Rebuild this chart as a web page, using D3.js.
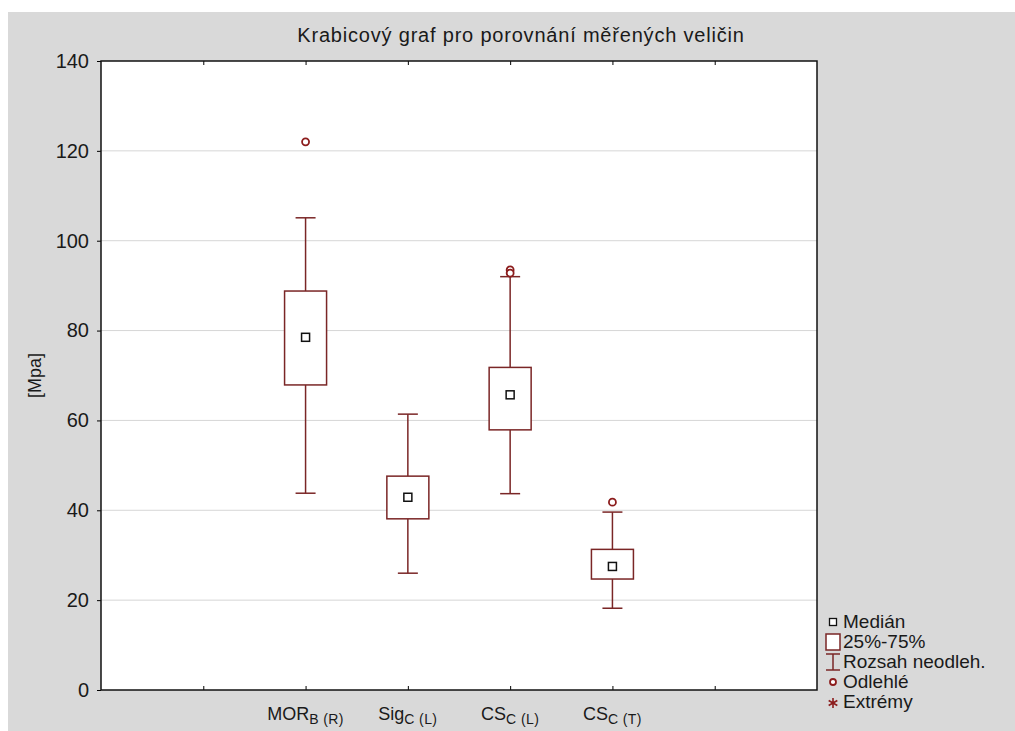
<!DOCTYPE html>
<html>
<head>
<meta charset="utf-8">
<script src="https://cdn.jsdelivr.net/npm/d3@7"></script>
<style>
  html, body { margin: 0; padding: 0; background: #ffffff; }
  svg { display: block; }
  text { font-family: "Liberation Sans", Arial, sans-serif; fill: #1a1a1a; }
</style>
</head>
<body>
<svg id="chart" width="1015" height="731"></svg>
<script>
// Measured quantities (MPa) per variable
const categories = ["MOR", "Sig", "CS", "CS"];
const subscripts = ["B (R)", "C (L)", "C (L)", "C (T)"];
const medians    = [78.5, 42.9, 65.7, 27.5];
const q1         = [67.9, 38.1, 57.9, 24.7];
const q3         = [88.8, 47.6, 71.8, 31.3];
const whiskerLo  = [43.8, 26.0, 43.7, 18.2];
const whiskerHi  = [105.1, 61.4, 92.0, 39.6];
const outliers   = [[122.0], [], [93.5, 92.8], [41.8]];

const yTicks = [0, 20, 40, 60, 80, 100, 120, 140];
const gridTicks = [20, 40, 60, 80, 100, 120];
const xTickSlots = [1, 2, 3, 4, 5, 6];

const legendItems = ["Medián", "25%-75%", "Rozsah neodleh.", "Odlehlé", "Extrémy"];

const titleText = "Krabicový graf pro porovnání měřených veličin";
const yLabel = "[Mpa]";

const boxColor = "#7a2626";
const pointColor = "#8c1d1d";

const svg = d3.select("#chart");

// gray panel
svg.append("rect").attr("x", 8).attr("y", 12).attr("width", 1007).attr("height", 719)
  .attr("fill", "#d9d9d9");

const plot = { left: 101, right: 817, top: 61, bottom: 690 };

const x = d3.scaleLinear().domain([0, 7]).range([plot.left, plot.right]);
const y = d3.scaleLinear().domain([0, 140]).range([plot.bottom, plot.top]);

// plot background
svg.append("rect")
  .attr("x", plot.left).attr("y", plot.top)
  .attr("width", plot.right - plot.left).attr("height", plot.bottom - plot.top)
  .attr("fill", "#ffffff");

// horizontal grid
svg.append("g").selectAll("line").data(gridTicks).join("line")
  .attr("x1", plot.left).attr("x2", plot.right)
  .attr("y1", d => y(d)).attr("y2", d => y(d))
  .attr("stroke", "#d6d6d6").attr("stroke-width", 1);

// y axis
const yAxis = svg.append("g").attr("transform", `translate(${plot.left},0)`)
  .call(d3.axisLeft(y).tickValues(yTicks).tickSize(4).tickPadding(8));
yAxis.select(".domain").remove();
yAxis.selectAll(".tick line").attr("stroke", "#000");
yAxis.selectAll(".tick text")
  .style("font-size", "20px").attr("fill", "#1a1a1a")
  .style("font-family", "'Liberation Sans', Arial, sans-serif");

// x axis ticks (inward, bottom and top)
const xAxisB = svg.append("g").attr("transform", `translate(0,${plot.bottom})`)
  .call(d3.axisTop(x).tickValues(xTickSlots).tickSize(4).tickFormat(""));
xAxisB.select(".domain").remove();
const xAxisT = svg.append("g").attr("transform", `translate(0,${plot.top})`)
  .call(d3.axisBottom(x).tickValues(xTickSlots).tickSize(4).tickFormat(""));
xAxisT.select(".domain").remove();

// frame
svg.append("rect")
  .attr("x", plot.left).attr("y", plot.top)
  .attr("width", plot.right - plot.left).attr("height", plot.bottom - plot.top)
  .attr("fill", "none").attr("stroke", "#111").attr("stroke-width", 1.5);

// category labels with subscripts
const xLabels = svg.append("g");
categories.forEach((c, i) => {
  const t = xLabels.append("text")
    .attr("x", x(i + 2)).attr("y", plot.bottom + 30)
    .attr("text-anchor", "middle")
    .style("font-size", "18px");
  t.append("tspan").text(c);
  t.append("tspan").attr("dy", 4).style("font-size", "14px")
    .style("letter-spacing", "0.4px").text(subscripts[i]);
});

// boxes
const boxW = 42, capW = 20, medS = 8;
const boxes = svg.append("g");
categories.forEach((c, i) => {
  const cx = x(i + 2);
  const g = boxes.append("g");
  // whisker stems
  g.append("line").attr("x1", cx).attr("x2", cx)
    .attr("y1", y(q3[i])).attr("y2", y(whiskerHi[i]))
    .attr("stroke", boxColor).attr("stroke-width", 1.5);
  g.append("line").attr("x1", cx).attr("x2", cx)
    .attr("y1", y(q1[i])).attr("y2", y(whiskerLo[i]))
    .attr("stroke", boxColor).attr("stroke-width", 1.5);
  // caps
  [whiskerHi[i], whiskerLo[i]].forEach(v => {
    g.append("line").attr("x1", cx - capW / 2).attr("x2", cx + capW / 2)
      .attr("y1", y(v)).attr("y2", y(v))
      .attr("stroke", boxColor).attr("stroke-width", 1.5);
  });
  // box
  g.append("rect")
    .attr("x", cx - boxW / 2).attr("y", y(q3[i]))
    .attr("width", boxW).attr("height", y(q1[i]) - y(q3[i]))
    .attr("fill", "#ffffff").attr("stroke", boxColor).attr("stroke-width", 1.5);
  // median marker
  g.append("rect")
    .attr("x", cx - medS / 2).attr("y", y(medians[i]) - medS / 2)
    .attr("width", medS).attr("height", medS)
    .attr("fill", "#ffffff").attr("stroke", "#111").attr("stroke-width", 1.5);
  // outliers
  g.selectAll("circle").data(outliers[i]).join("circle")
    .attr("cx", cx).attr("cy", d => y(d)).attr("r", 3.5)
    .attr("fill", "#ffffff").attr("stroke", pointColor).attr("stroke-width", 1.8);
});

// title
svg.append("text")
  .attr("x", 521).attr("y", 42).attr("text-anchor", "middle")
  .style("font-size", "20px").style("letter-spacing", "0.8px").text(titleText);

// y axis title
svg.append("text")
  .attr("transform", `translate(41,${(plot.top + plot.bottom) / 2}) rotate(-90)`)
  .attr("text-anchor", "middle")
  .style("font-size", "18px").text(yLabel);

// legend
const leg = svg.append("g").attr("transform", "translate(833,622)");
const rowH = 20;
legendItems.forEach((label, i) => {
  const ly = i * rowH;
  const row = leg.append("g").attr("transform", `translate(0,${ly})`);
  if (i === 0) {
    row.append("rect").attr("x", -3.5).attr("y", -3.5).attr("width", 7).attr("height", 7)
      .attr("fill", "#fff").attr("stroke", "#111").attr("stroke-width", 1.3);
  } else if (i === 1) {
    row.append("rect").attr("x", -7).attr("y", -8).attr("width", 14).attr("height", 16)
      .attr("fill", "#fff").attr("stroke", boxColor).attr("stroke-width", 1.5);
  } else if (i === 2) {
    row.append("line").attr("x1", 0).attr("x2", 0).attr("y1", -8).attr("y2", 8)
      .attr("stroke", boxColor).attr("stroke-width", 1.5);
    row.append("line").attr("x1", -7).attr("x2", 7).attr("y1", -8).attr("y2", -8)
      .attr("stroke", boxColor).attr("stroke-width", 1.5);
    row.append("line").attr("x1", -7).attr("x2", 7).attr("y1", 8).attr("y2", 8)
      .attr("stroke", boxColor).attr("stroke-width", 1.5);
  } else if (i === 3) {
    row.append("circle").attr("r", 3).attr("fill", "#fff")
      .attr("stroke", pointColor).attr("stroke-width", 1.8);
  } else {
    row.append("path").attr("d", d3.symbol(d3.symbolAsterisk, 70)())
      .attr("transform", "translate(0,1)")
      .attr("fill", "none").attr("stroke", pointColor).attr("stroke-width", 1.6);
  }
  row.append("text").attr("x", 10).attr("y", 6)
    .style("font-size", "19px").text(label);
});
</script>
</body>
</html>
